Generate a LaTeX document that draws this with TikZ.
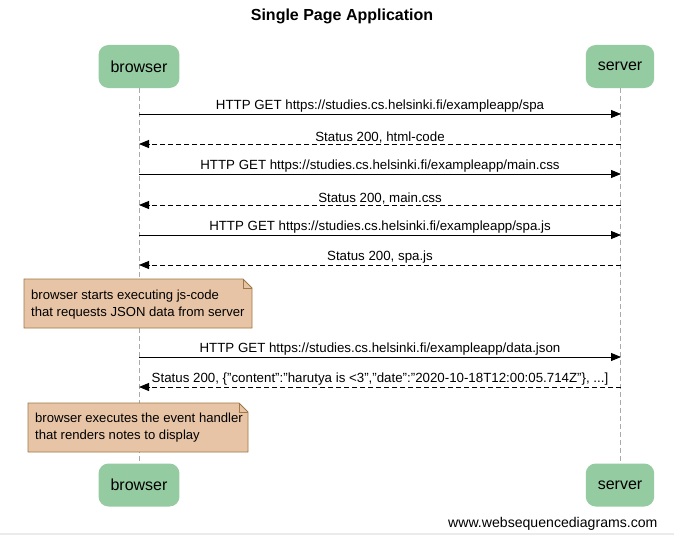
\documentclass[tikz,border=0pt]{standalone}
\usepackage{fontspec}
\setmainfont{Liberation Sans}
\usetikzlibrary{arrows.meta,calc}
\definecolor{partgreen}{RGB}{148,203,160}
\definecolor{notefill}{RGB}{231,196,166}
\definecolor{noteline}{RGB}{160,120,70}
\definecolor{lifegray}{RGB}{170,170,170}
\tikzset{
  participant/.style={fill=partgreen, draw=none, rounded corners=10pt, minimum height=43pt, inner xsep=12pt, font=\fontsize{16}{18}\selectfont},
  lifeline/.style={draw=lifegray, dash pattern=on 5pt off 3pt, line width=0.8pt},
  msg/.style={draw=black, line width=0.9pt, -{Triangle[length=10pt,width=8pt]}},
  reply/.style={msg, dash pattern=on 5pt off 3pt},
  msglabel/.style={font=\fontsize{13.3}{15}\selectfont, inner sep=0.8pt, anchor=south},
  notetext/.style={font=\fontsize{13.1}{17}\selectfont, align=left, anchor=west, inner xsep=7pt},
}
\begin{document}
\begin{tikzpicture}[x=1pt,y=-1pt]
\useasboundingbox (0,0) rectangle (674,535);
\fill[white] (0,0) rectangle (674,535);
\fill[black!8] (0,532.5) rectangle (674,535);
\node[font=\bfseries\fontsize{16}{18}\selectfont] (title) at (342,16) {Single Page Application};
% participants
\node[participant] (btop) at (139,66.5) {browser};
\node[participant] (stop) at (620,66.5) {server};
\node[participant] (bbot) at (139,485) {browser};
\node[participant] (sbot) at (620,485) {server};
\draw[lifeline] (btop.south) -- (bbot.north);
\draw[lifeline] (stop.south) -- (sbot.north);
% message coordinates
\foreach \n/\y in {1/114,2/144,3/174,4/205,5/235,6/265,7/357,8/387}{
  \coordinate (b\n) at (139,\y);
  \coordinate (s\n) at (621,\y);
}
\draw[msg] (b1) -- (s1) node[msglabel, midway] {HTTP GET https://studies.cs.helsinki.fi/exampleapp/spa};
\draw[reply] (s2) -- (b2) node[msglabel, midway] {Status 200, html-code};
\draw[msg] (b3) -- (s3) node[msglabel, midway] {HTTP GET https://studies.cs.helsinki.fi/exampleapp/main.css};
\draw[reply] (s4) -- (b4) node[msglabel, midway] {Status 200, main.css};
\draw[msg] (b5) -- (s5) node[msglabel, midway] {HTTP GET https://studies.cs.helsinki.fi/exampleapp/spa.js};
\draw[reply] (s6) -- (b6) node[msglabel, midway] {Status 200, spa.js};
\draw[msg] (b7) -- (s7) node[msglabel, midway] {HTTP GET https://studies.cs.helsinki.fi/exampleapp/data.json};
\draw[reply] (s8) -- (b8) node[msglabel, midway] {Status 200, \{"content":"harutya is <3","date":"2020-10-18T12:00:05.714Z"\}, ...]};
% notes
\fill[notefill] (24,279) -- (243,279) -- (252,288) -- (252,328) -- (24,328) -- cycle;
\draw[noteline, line width=0.8pt] (24,279) -- (243,279) -- (252,288) -- (252,328) -- (24,328) -- cycle;
\draw[noteline, line width=0.8pt] (243,279) -- (243,288) -- (252,288);
\node[notetext] (note1) at (24,304.5) {browser starts executing js-code\\that requests JSON data from server};
\fill[notefill] (28,403) -- (239,403) -- (248,412) -- (248,452) -- (28,452) -- cycle;
\draw[noteline, line width=0.8pt] (28,403) -- (239,403) -- (248,412) -- (248,452) -- (28,452) -- cycle;
\draw[noteline, line width=0.8pt] (239,403) -- (239,412) -- (248,412);
\node[notetext] (note2) at (28,427.5) {browser executes the event handler\\that renders notes to display};
\node[font=\fontsize{14.1}{16}\selectfont, anchor=east] (footer) at (661,523.5) {www.websequencediagrams.com};
\end{tikzpicture}
\end{document}
